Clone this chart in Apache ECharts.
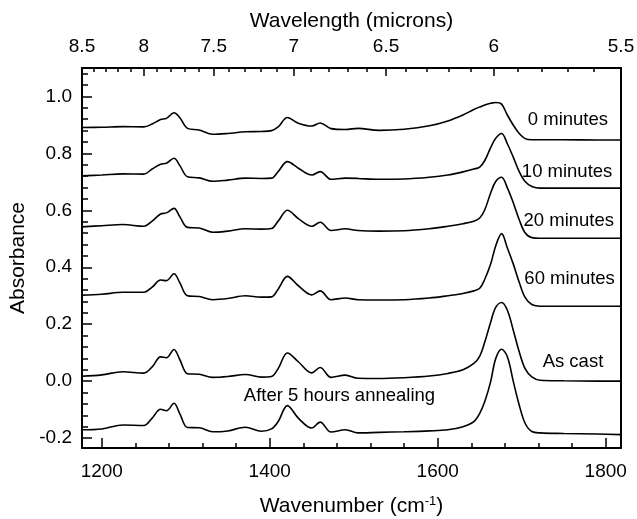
<!DOCTYPE html>
<html>
<head>
<meta charset="utf-8">
<script src="https://cdn.jsdelivr.net/npm/echarts@6/dist/echarts.min.js"></script>
<style>html,body{margin:0;padding:0;background:#fff}#c{width:637px;height:519px}</style>
</head>
<body>
<div id="c"></div>
<script>
// ---- data ----
const wavenumber = [1176,1200,1225,1250,1260,1270,1277,1286,1293,1302,1316,1332,1350,1371,1390,1402,1410,1421,1434,1450,1460,1473,1490,1505,1530,1560,1590,1612,1630,1643,1650,1656,1663,1669,1676,1683,1690,1697,1704,1712,1722,1750,1790,1818];
const min0 = [0.891,0.892,0.894,0.893,0.903,0.919,0.923,0.943,0.925,0.888,0.882,0.867,0.870,0.876,0.877,0.880,0.893,0.926,0.906,0.896,0.907,0.887,0.884,0.888,0.881,0.885,0.897,0.914,0.935,0.954,0.963,0.970,0.976,0.979,0.973,0.934,0.899,0.870,0.852,0.848,0.848,0.848,0.847,0.847];
const min10 = [0.721,0.724,0.728,0.727,0.745,0.762,0.765,0.783,0.757,0.718,0.714,0.702,0.706,0.713,0.712,0.713,0.736,0.771,0.748,0.724,0.736,0.709,0.713,0.712,0.709,0.710,0.716,0.724,0.735,0.745,0.752,0.775,0.820,0.853,0.870,0.833,0.786,0.736,0.701,0.684,0.678,0.678,0.678,0.678];
const min20 = [0.542,0.546,0.550,0.544,0.562,0.587,0.591,0.607,0.577,0.540,0.538,0.523,0.527,0.535,0.534,0.536,0.562,0.600,0.571,0.544,0.558,0.529,0.535,0.529,0.527,0.528,0.535,0.544,0.553,0.562,0.573,0.602,0.661,0.701,0.716,0.678,0.626,0.567,0.521,0.504,0.502,0.502,0.502,0.502];
const min60 = [0.302,0.305,0.312,0.312,0.330,0.355,0.353,0.377,0.345,0.300,0.297,0.286,0.290,0.300,0.295,0.296,0.323,0.368,0.335,0.303,0.317,0.286,0.292,0.286,0.285,0.286,0.292,0.300,0.308,0.317,0.326,0.358,0.411,0.475,0.518,0.467,0.411,0.347,0.294,0.269,0.263,0.263,0.263,0.263];
const asCast = [0.017,0.022,0.033,0.028,0.050,0.085,0.082,0.111,0.075,0.026,0.024,0.013,0.016,0.023,0.014,0.016,0.044,0.099,0.068,0.029,0.048,0.013,0.021,0.010,0.009,0.012,0.018,0.027,0.040,0.062,0.088,0.137,0.207,0.259,0.276,0.248,0.178,0.103,0.044,0.015,0.003,0.001,0.000,0.000];
const annealed5h = [-0.171,-0.168,-0.154,-0.156,-0.130,-0.099,-0.104,-0.078,-0.115,-0.163,-0.164,-0.178,-0.175,-0.162,-0.176,-0.168,-0.142,-0.086,-0.130,-0.165,-0.144,-0.179,-0.171,-0.182,-0.180,-0.178,-0.175,-0.171,-0.160,-0.142,-0.113,-0.072,-0.002,0.079,0.112,0.085,-0.002,-0.084,-0.148,-0.177,-0.182,-0.184,-0.186,-0.188];
const seriesNames = ['0 minutes','10 minutes','20 minutes','60 minutes','As cast','After 5 hours annealing'];
const bottomMajor = [1200,1400,1600,1800];
const bottomMinor = [1240,1280,1320,1360,1440,1480,1520,1560,1640,1680,1720,1760];
const topMajorMicrons = [8.5,8,7.5,7,6.5,6,5.5];
const topMinorMicrons = [8.4,8.3,8.2,8.1,7.9,7.8,7.7,7.6,7.4,7.3,7.2,7.1,6.9,6.8,6.7,6.6,6.4,6.3,6.2,6.1,5.9,5.8,5.7,5.6];
const yMajor = [-0.2,0,0.2,0.4,0.6,0.8,1.0];
const yMinor = [-0.16,-0.12,-0.08,-0.04,0.04,0.08,0.12,0.16,0.24,0.28,0.32,0.36,0.44,0.48,0.52,0.56,0.64,0.68,0.72,0.76,0.84,0.88,0.92,0.96,1.04,1.08];

// ---- chart ----
const FONT = '"Liberation Sans", Arial, Helvetica, sans-serif';
const allValues = [min0, min10, min20, min60, asCast, annealed5h];
const labelAnchors = [[1755,0.918],[1754,0.736],[1756,0.562],[1757,0.360],[1761,0.068],[1483,-0.052]];
const xMin = 10000/8.5, xMax = 10000/5.5;
const toWn = m => 10000/m;

const black = '#000';
const tickBase = (vals, len) => ({show:true, inside:true, length:len, customValues: vals, lineStyle:{color:black, width:1.5}});

const chart = echarts.init(document.getElementById('c'), null, {renderer:'canvas'});
chart.setOption({
  animation:false,
  backgroundColor:'#fff',
  textStyle:{fontFamily:FONT, color:black},
  grid:{left:82, right:16, top:68, bottom:71, containLabel:false, outerBoundsMode:'none'},
  xAxis:[
    {type:'value', position:'bottom', min:xMin, max:xMax,
     axisLine:{show:true, onZero:false, lineStyle:{color:black, width:2}},
     axisTick: tickBase(bottomMajor, 10),
     axisLabel:{show:true, customValues: bottomMajor, margin:14, fontSize:19, color:black, fontFamily:FONT,
       formatter: v => String(Math.round(v))},
     splitLine:{show:false},
     name:'Wavenumber (cm{sup|-1})', nameLocation:'middle', nameGap:47,
     nameTextStyle:{fontSize:21, color:black, fontFamily:FONT, verticalAlign:'top',
       rich:{sup:{fontSize:13, fontFamily:FONT, color:black, verticalAlign:'bottom', padding:[0,0,10,0]}}}},
    {type:'value', position:'bottom', min:xMin, max:xMax,
     axisLine:{show:false, onZero:false}, axisTick: tickBase(bottomMinor, 5),
     axisLabel:{show:false}, splitLine:{show:false}},
    {type:'value', position:'top', min:xMin, max:xMax,
     axisLine:{show:true, onZero:false, lineStyle:{color:black, width:2}},
     axisTick: tickBase(topMajorMicrons.map(toWn), 8),
     axisLabel:{show:true, customValues: topMajorMicrons.map(toWn), margin:12, fontSize:19, color:black, fontFamily:FONT,
       formatter: v => String(Math.round(10000/v*10)/10)},
     splitLine:{show:false},
     name:'Wavelength (microns)', nameLocation:'middle', nameGap:34,
     nameTextStyle:{fontSize:21, color:black, fontFamily:FONT}},
    {type:'value', position:'top', min:xMin, max:xMax,
     axisLine:{show:false, onZero:false}, axisTick: tickBase(topMinorMicrons.map(toWn), 4),
     axisLabel:{show:false}, splitLine:{show:false}}
  ],
  yAxis:[
    {type:'value', position:'left', min:-0.235, max:1.1,
     axisLine:{show:true, onZero:false, lineStyle:{color:black, width:2}},
     axisTick: tickBase(yMajor, 10),
     axisLabel:{show:true, customValues: yMajor, margin:10, fontSize:19, color:black, fontFamily:FONT,
       formatter: v => v.toFixed(1)},
     splitLine:{show:false},
     name:'Absorbance', nameLocation:'middle', nameGap:50,
     nameTextStyle:{fontSize:21, color:black, fontFamily:FONT}},
    {type:'value', position:'left', min:-0.235, max:1.1,
     axisLine:{show:false, onZero:false}, axisTick: tickBase(yMinor, 6),
     axisLabel:{show:false}, splitLine:{show:false}},
    {type:'value', position:'right', min:-0.235, max:1.1,
     axisLine:{show:true, onZero:false, lineStyle:{color:black, width:2}},
     axisTick:{show:false}, axisLabel:{show:false}, splitLine:{show:false}}
  ],
  series: allValues.map((vals, i) => ({
    type:'line', name: seriesNames[i], xAxisIndex:0, yAxisIndex:0,
    data: wavenumber.map((w, j) => [w, vals[j]]),
    smooth:0.35, symbol:'none', lineStyle:{color:black, width:1.6},
    markPoint:{
      symbol:'circle', symbolSize:1, itemStyle:{color:'rgba(0,0,0,0)'},
      label:{show:true, position:'inside', formatter: seriesNames[i], fontSize:18.5, color:black, fontFamily:FONT},
      data:[{coord: labelAnchors[i]}]
    }
  }))
});
</script>
</body>
</html>
